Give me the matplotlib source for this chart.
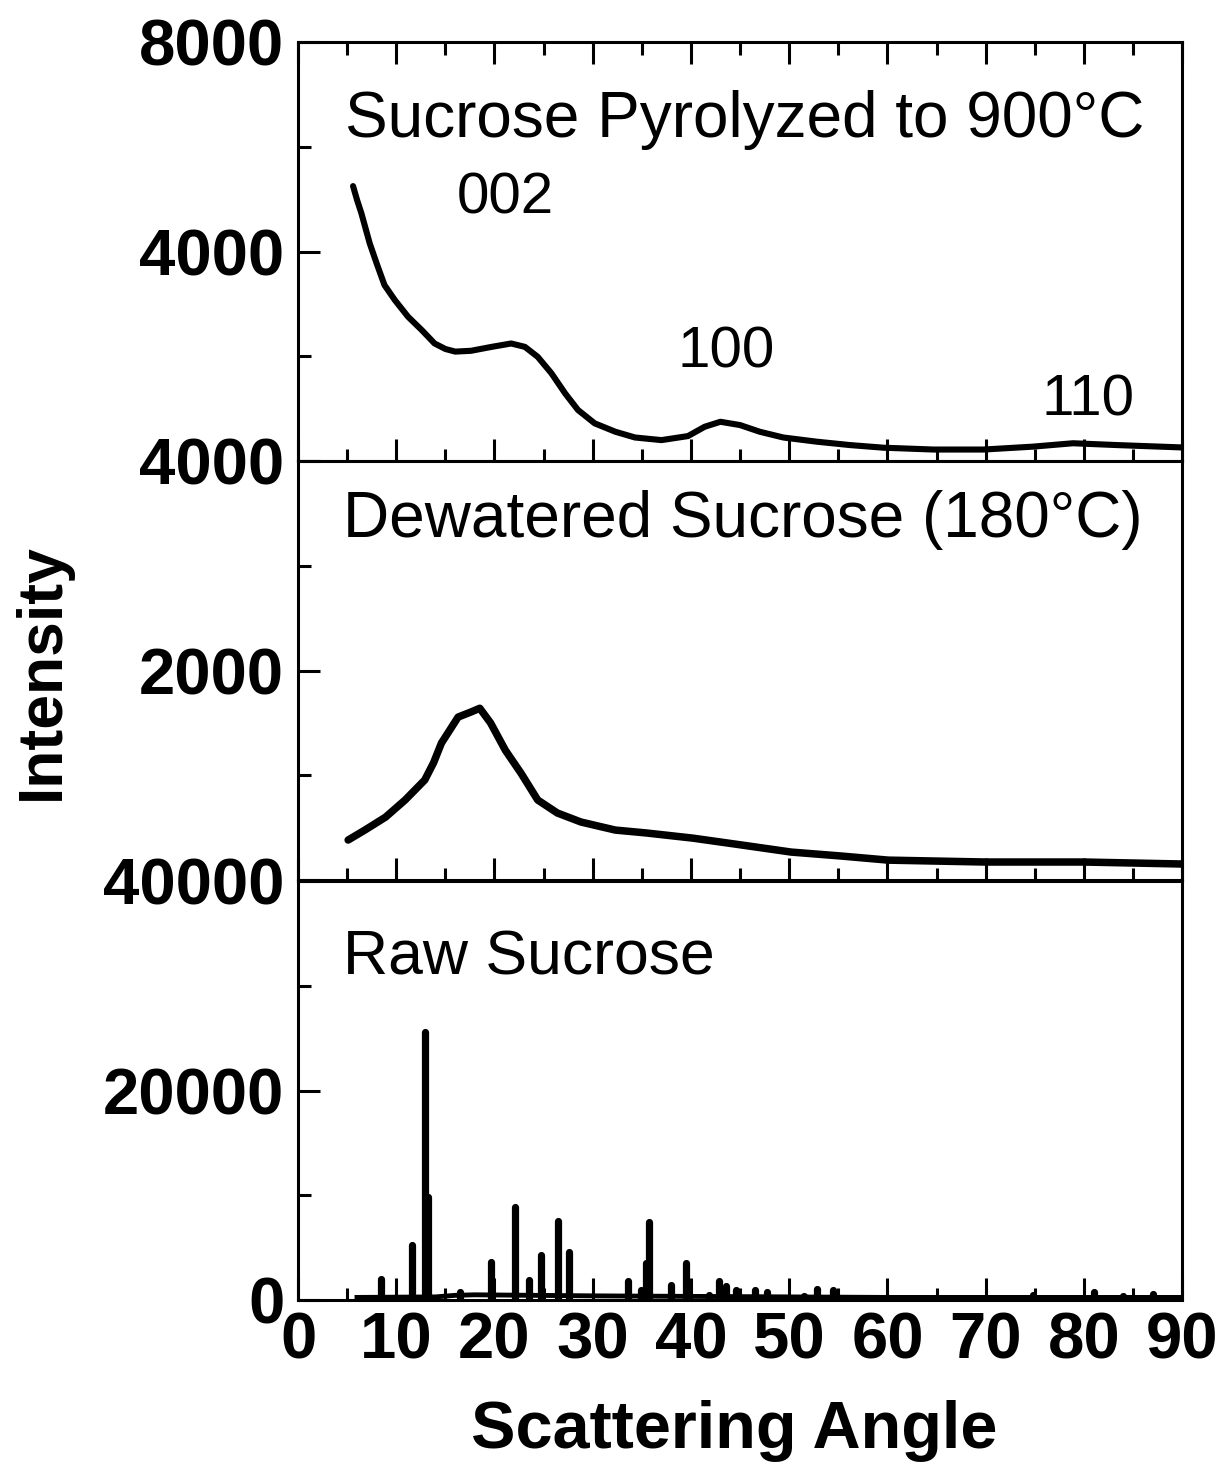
import matplotlib
matplotlib.use("Agg")
import matplotlib.pyplot as plt
from matplotlib.ticker import FixedLocator

plt.rcParams['font.family'] = ['Liberation Sans', 'DejaVu Sans']

# Sucrose pyrolyzed to 900 C (top panel)
pyro_angle = [5.6, 6.0, 6.45, 7.3, 8.0, 8.8, 9.85, 11.2, 12.6, 13.9, 15.0, 16.0,
              17.6, 19.7, 21.7, 23.1, 24.4, 25.8, 27.2, 28.5, 30.2, 32.3, 34.3,
              37.0, 39.7, 41.4, 43.0, 45.0, 47.0, 49.4, 52.8, 56.2, 59.6, 64.7,
              69.8, 74.8, 78.9, 83.4, 90.0]
pyro_int = [5250, 4990, 4730, 4155, 3775, 3360, 3075, 2755, 2500, 2245, 2140, 2090,
            2105, 2180, 2245, 2180, 1990, 1675, 1290, 975, 720, 560, 450,
            400, 477, 655, 750, 687, 560, 450, 370, 305, 255, 220,
            220, 275, 340, 305, 260]

# Dewatered sucrose, 180 C (middle panel)
dew_angle = [5.1, 6.8, 8.9, 10.9, 12.9, 13.8, 14.6, 16.3, 17.6, 18.5, 19.6, 21.1,
             22.7, 24.4, 26.4, 28.8, 32.3, 35.4, 40.2, 45.2, 50.2, 55.2, 60.1,
             70.0, 80.0, 90.0]
dew_int = [382, 477, 600, 764, 955, 1120, 1308, 1556, 1604, 1640, 1500, 1240,
           1020, 764, 640, 554, 477, 450, 400, 334, 267, 230, 190,
           172, 172, 153]

# Raw sucrose (bottom panel): background and peaks
raw_bg_angle = [6.0, 14.0, 16.0, 18.0, 30.0, 40.0, 50.0, 60.0, 70.0, 80.0, 90.0]
raw_bg_int = [250, 300, 450, 500, 400, 350, 300, 250, 250, 250, 250]
peak_angle = [8.4, 11.6, 12.9, 13.2, 16.5, 19.6, 22.1, 23.5, 24.7, 26.5, 27.6,
              33.6, 34.9, 35.4, 35.7, 38.0, 39.5, 41.8, 42.9, 43.6, 44.6, 46.5,
              47.7, 51.5, 52.8, 54.5, 74.8, 81.0, 84.0, 87.0]
peak_int = [2000, 5240, 25600, 9800, 760, 3620, 8860, 1900, 4290, 7520, 4570,
            1840, 950, 3490, 7460, 1430, 3490, 480, 1840, 1370, 950, 950,
            730, 410, 1050, 950, 480, 760, 400, 540]

fig = plt.figure(figsize=(12.16, 14.66), dpi=100)
left, width, height = 0.2451, 0.727, 0.2858
ax1 = fig.add_axes([left, 0.6855, width, height])
ax2 = fig.add_axes([left, 0.3997, width, height])
ax3 = fig.add_axes([left, 0.1132, width, height])

ax1.plot(pyro_angle, pyro_int, color='black', lw=4.4, solid_joinstyle='round',
         solid_capstyle='round')
ax2.plot(dew_angle, dew_int, color='black', lw=5.4, solid_joinstyle='round',
         solid_capstyle='round')
ax3.plot(raw_bg_angle, raw_bg_int, color='black', lw=3.5)
ax3.vlines(peak_angle, 0, peak_int, color='black', lw=5.2, capstyle='round')

# y scales, ticks and labels for each panel
panels = [
    (ax1, 8000, [0, 4000, 8000], ['', '4000', '8000'], [2000, 6000]),
    (ax2, 4000, [0, 2000, 4000], ['', '2000', '4000'], [1000, 3000]),
    (ax3, 40000, [0, 20000, 40000], ['0', '20000', '40000'], [10000, 30000]),
]
for ax, ymax, ticks, labels, minors in panels:
    ax.set_xlim(0, 90)
    ax.set_ylim(0, ymax)
    ax.set_yticks(ticks)
    ax.set_yticklabels(labels)
    ax.yaxis.set_minor_locator(FixedLocator(minors))
    ax.xaxis.set_major_locator(FixedLocator(range(0, 91, 10)))
    ax.xaxis.set_minor_locator(FixedLocator(range(5, 91, 10)))
    for sp in ax.spines.values():
        sp.set_linewidth(2.2)
    ax.tick_params(axis='both', which='both', direction='in', width=2.2,
                   right=False, top=(ax is ax1))
    ax.tick_params(axis='both', which='major', length=16)
    ax.tick_params(axis='both', which='minor', length=9)
    ax.tick_params(axis='y', labelsize=47, pad=10)
    for lab in ax.get_yticklabels():
        lab.set_fontweight('bold')
    if ax is not ax3:
        ax.tick_params(axis='x', labelbottom=False)

ax3.tick_params(axis='x', labelsize=47, pad=8)
for lab in ax3.get_xticklabels():
    lab.set_fontweight('bold')

ax1.text(4.8, 6510, 'Sucrose Pyrolyzed to 900°C', fontsize=46, va='center', ha='left')
ax1.text(21.1, 5020, '002', fontsize=42, va='center', ha='center')
ax1.text(43.6, 2080, '100', fontsize=42, va='center', ha='center')
ax1.text(80.4, 1165, '110', fontsize=42, va='center', ha='center')
ax2.text(4.6, 3437, 'Dewatered Sucrose (180°C)', fontsize=46, va='center', ha='left')
ax3.text(4.6, 32670, 'Raw Sucrose', fontsize=45, va='center', ha='left')

fig.text(0.604, 0.024, 'Scattering Angle', fontsize=48, fontweight='bold',
         ha='center', va='center')
fig.text(0.035, 0.542, 'Intensity', fontsize=45, fontweight='bold',
         ha='center', va='center', rotation=90)

fig.savefig('out.png', dpi=100)
